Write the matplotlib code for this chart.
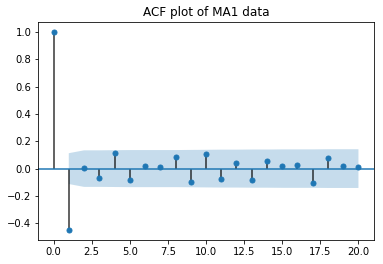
import numpy as np
import matplotlib
matplotlib.use("Agg")
import matplotlib.pyplot as plt

# autocorrelation values, lags 0..20
lags = np.arange(21)
acf = [1.0, -0.453, 0.007, -0.066, 0.118, -0.081, 0.022, 0.015, 0.088, -0.096,
       0.110, -0.078, 0.039, -0.086, 0.054, 0.017, 0.025, -0.108, 0.076, 0.017,
       0.010]
# half width of the 95% confidence band, lags 1..20
band_lags = np.arange(1, 21)
band = [0.113, 0.134, 0.134, 0.135, 0.136, 0.136, 0.136, 0.136, 0.137, 0.138,
        0.139, 0.139, 0.140, 0.140, 0.141, 0.141, 0.141, 0.142, 0.142, 0.142]

fig = plt.figure(figsize=(383/72., 264/72.), dpi=72)
ax = fig.add_axes([38.3/383, 1 - 240.3/264, (373.7-38.3)/383, (240.3-22.3)/264])

ax.vlines(lags, [0], acf, colors="black", alpha=0.8, linewidth=1.5)
ax.axhline(0, color="C0", linewidth=1.5)
ax.plot(lags, acf, marker="o", markersize=5, linestyle="None", color="C0")
band = np.array(band)
ax.fill_between(band_lags, -band, band, alpha=0.25, linewidth=0)
ax.margins(0.05)

ax.set_title("ACF plot of MA1 data")

fig.savefig("out.png", dpi=72)
